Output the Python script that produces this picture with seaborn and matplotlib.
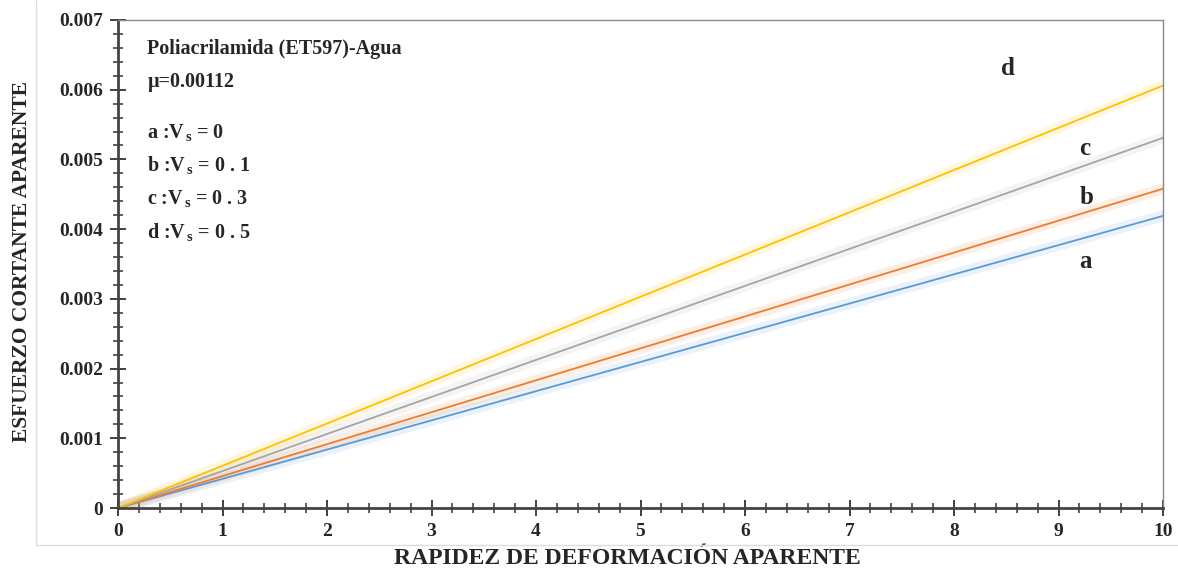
import matplotlib
matplotlib.use("Agg")
import matplotlib.pyplot as plt
import numpy as np
import pandas as pd
import seaborn as sns
from matplotlib.lines import Line2D
from matplotlib.ticker import MultipleLocator

# rapidez de deformacion aparente (x) and esfuerzo cortante aparente per series
shear_rate = [0, 10]
series = ["a", "b", "c", "d"]
stress_a = [0.0, 0.00419]
stress_b = [0.0, 0.00458]
stress_c = [0.0, 0.00531]
stress_d = [0.0, 0.00606]
vs_values = ["0", "0 . 1", "0 . 3", "0 . 5"]
label_x = [9.2, 9.2, 9.2, 8.45]
label_y = [0.00353, 0.00446, 0.00516, 0.00631]

colors = {"a": "#5B9BD5", "b": "#ED7D31", "c": "#A5A5A5", "d": "#FFC000"}

df = pd.concat(
    [
        pd.DataFrame({"x": shear_rate, "y": vals, "serie": s})
        for s, vals in zip(series, [stress_a, stress_b, stress_c, stress_d])
    ],
    ignore_index=True,
)

sns.set_theme(style="white")
plt.rcParams["font.family"] = ["Liberation Serif", "DejaVu Serif"]
plt.rcParams["font.weight"] = "bold"
plt.rcParams["mathtext.fontset"] = "custom"
plt.rcParams["mathtext.rm"] = "Liberation Serif:bold"
plt.rcParams["mathtext.it"] = "Liberation Serif:bold"
plt.rcParams["mathtext.bf"] = "Liberation Serif:bold"

fig = plt.figure(figsize=(11.78, 5.68), dpi=100)
ax = fig.add_axes([0.1002, 0.1056, 0.8871, 0.8592])

# soft glow under each line
sns.lineplot(data=df, x="x", y="y", hue="serie", palette=colors, linewidth=8,
             alpha=0.12, legend=False, ax=ax)
sns.lineplot(data=df, x="x", y="y", hue="serie", palette=colors, linewidth=1.3,
             legend=False, ax=ax)

ax.set_xlim(0, 10)
ax.set_ylim(0, 0.007)
ax.xaxis.set_major_locator(MultipleLocator(1))
ax.xaxis.set_minor_locator(MultipleLocator(0.2))
ax.yaxis.set_minor_locator(MultipleLocator(0.0002))
ax.set_yticks(np.arange(0, 0.0071, 0.001))
ax.set_yticklabels(["0"] + [f"{v:.3f}" for v in np.arange(0.001, 0.0071, 0.001)])

ax.tick_params(which="major", direction="inout", length=11, width=1.3,
               color="#333333", labelsize=14, pad=5)
ax.tick_params(which="minor", direction="inout", length=7, width=1.1,
               color="#333333")
ax.tick_params(axis="x", bottom=True, which="both")
ax.tick_params(axis="y", left=True, which="both")
for lab in ax.get_xticklabels() + ax.get_yticklabels():
    lab.set_fontweight("bold")

for side in ["left", "bottom"]:
    ax.spines[side].set_color("#444444")
    ax.spines[side].set_linewidth(2)
for side in ["top", "right"]:
    ax.spines[side].set_color("#888888")
    ax.spines[side].set_linewidth(1)

ax.set_xlabel("RAPIDEZ DE DEFORMACIÓN APARENTE", fontsize=17, fontweight="bold")
ax.xaxis.set_label_coords(0.487, -0.082)
ax.set_ylabel("ESFUERZO CORTANTE APARENTE", fontsize=15.5, fontweight="bold")
ax.yaxis.set_label_coords(-0.082, 0.505)

for s, lx, ly in zip(series, label_x, label_y):
    ax.text(lx, ly, s, fontsize=18, fontweight="bold", ha="left", va="center")

ax.text(0.028, 0.94, "Poliacrilamida (ET597)-Agua", transform=ax.transAxes,
        fontsize=14.5, fontweight="bold", va="center")
ax.text(0.028, 0.872, "μ=0.00112", transform=ax.transAxes,
        fontsize=14.5, fontweight="bold", va="center")
for i, (s, v) in enumerate(zip(series, vs_values)):
    ax.text(0.028, 0.77 - i * 0.068, rf"{s} :V$_{{\,s}}$ = {v}",
            transform=ax.transAxes, fontsize=14.5, fontweight="bold", va="center")

# light chart-area border on the left and bottom
fig.add_artist(Line2D([36 / 1178, 36 / 1178], [23 / 568, 1.0],
                      transform=fig.transFigure, color="#DDDDDD", linewidth=1))
fig.add_artist(Line2D([36 / 1178, 1.0], [23 / 568, 23 / 568],
                      transform=fig.transFigure, color="#DDDDDD", linewidth=1))

fig.savefig("out.png", dpi=100)
